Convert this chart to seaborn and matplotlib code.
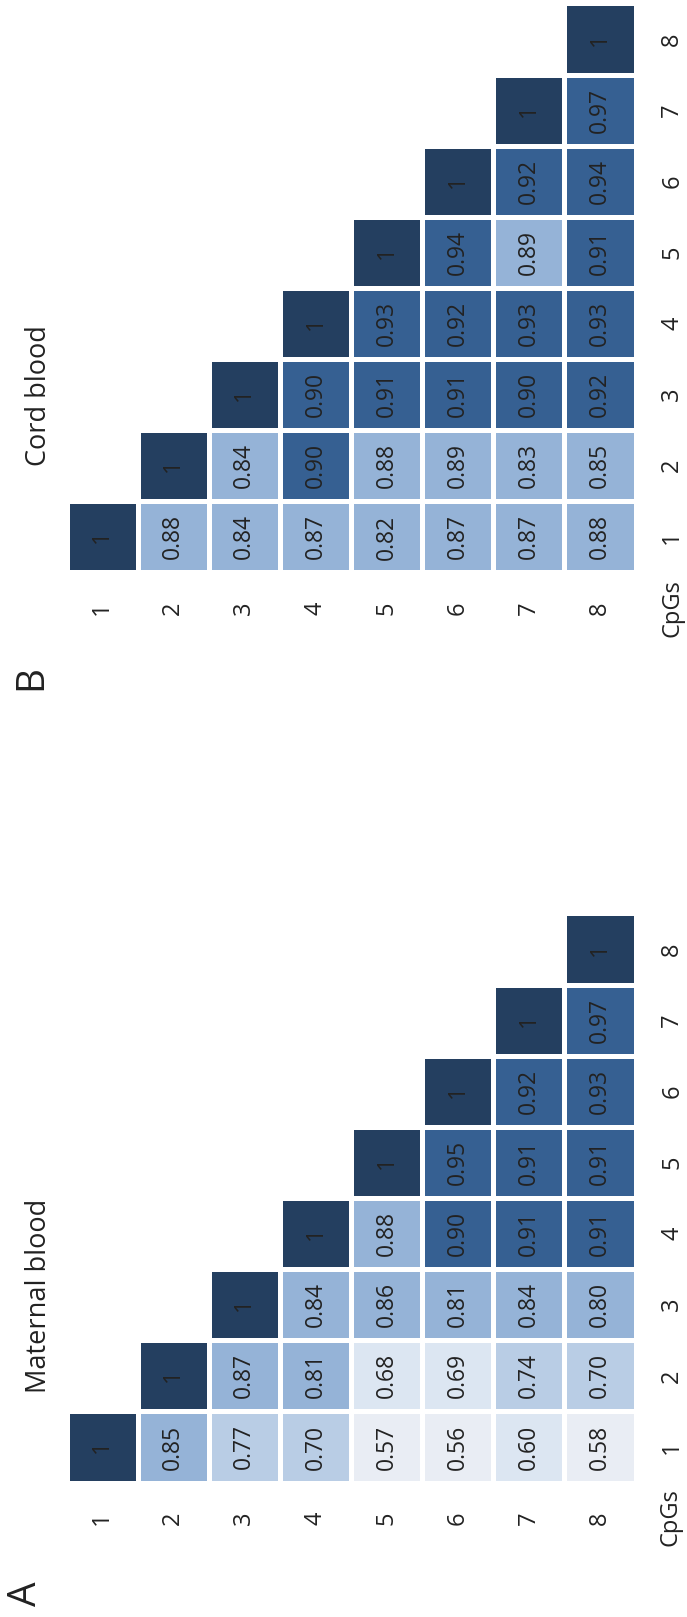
import numpy as np
import pandas as pd
import matplotlib
matplotlib.use("Agg")
import matplotlib.pyplot as plt
from matplotlib.colors import ListedColormap, BoundaryNorm
import seaborn as sns

# ---------------- data ----------------
cpgs = ["1", "2", "3", "4", "5", "6", "7", "8"]

# lower-triangle correlations, row i (CpG i) vs columns 1..i-1
maternal_rows = [
    [],
    [0.85],
    [0.77, 0.87],
    [0.70, 0.81, 0.84],
    [0.57, 0.68, 0.86, 0.88],
    [0.56, 0.69, 0.81, 0.90, 0.95],
    [0.60, 0.74, 0.84, 0.91, 0.91, 0.92],
    [0.58, 0.70, 0.80, 0.91, 0.91, 0.93, 0.97],
]
cord_rows = [
    [],
    [0.88],
    [0.84, 0.84],
    [0.87, 0.90, 0.90],
    [0.82, 0.88, 0.91, 0.93],
    [0.87, 0.89, 0.91, 0.92, 0.94],
    [0.87, 0.83, 0.90, 0.93, 0.89, 0.92],
    [0.88, 0.85, 0.92, 0.93, 0.91, 0.94, 0.97],
]
titles = ["Maternal blood", "Cord blood"]
panel_letters = ["A", "B"]
axis_name = "CpGs"

# discrete colour classes
bounds = [0.0, 0.595, 0.695, 0.795, 0.895, 0.995, 1.01]
class_colors = ["#e9edf4", "#dce6f2", "#b9cde5", "#95b3d7", "#366092", "#243f60"]

# ---------------- helpers ----------------
def full_matrix(rows):
    n = len(cpgs)
    m = np.full((n, n), np.nan)
    for i, r in enumerate(rows):
        for j, v in enumerate(r):
            m[i, j] = v
        m[i, i] = 1.0
    return m

def portrait(m):
    # rotated layout: x axis = CpG row index i, y axis (top->bottom) = column index j (8..1)
    n = m.shape[0]
    p = np.full((n, n), np.nan)
    for r in range(n):
        j = n - 1 - r
        for c in range(n):
            p[r, c] = m[c, j]
    return p

def labels(p):
    out = np.empty(p.shape, dtype=object)
    for idx, v in np.ndenumerate(p):
        if np.isnan(v):
            out[idx] = ""
        elif v >= 0.995:
            out[idx] = "1"
        else:
            out[idx] = f"{v:.2f}"
    return out

# ---------------- figure ----------------
sns.set_theme(style="white")
plt.rcParams["font.family"] = ["Open Sans", "DejaVu Sans"]
TXT = "#222222"

W, H = 687, 1617
fig = plt.figure(figsize=(W / 100, H / 100), dpi=100)

cmap = ListedColormap(class_colors)
norm = BoundaryNorm(bounds, cmap.N)

# axes boxes in pixels (left, top, size)
boxes = [(66.5, 913.5, 569), (66.5, 3.5, 569)]
title_pos = [(39, 1296), (39, 396)]
letter_pos = [(26, 1594), (31, 677)]
cpgs_pos = [(671, 1517), (672, 608)]

for k, rows in enumerate([maternal_rows, cord_rows]):
    left, top, size = boxes[k]
    ax = fig.add_axes([left / W, 1 - (top + size) / H, size / W, size / H])
    p = portrait(full_matrix(rows))
    df = pd.DataFrame(p, index=cpgs[::-1], columns=cpgs)
    mask = np.isnan(p)
    sns.heatmap(df, ax=ax, mask=mask, cmap=cmap, norm=norm, cbar=False,
                annot=labels(p), fmt="", linewidths=2.2, linecolor="white",
                annot_kws={"rotation": 90, "fontsize": 16.5, "color": TXT})
    ax.yaxis.tick_right()
    ax.tick_params(axis="x", length=0, pad=26, labelsize=17, labelcolor=TXT,
                   labelrotation=90)
    ax.tick_params(axis="y", length=0, pad=26.5, labelsize=17, labelcolor=TXT,
                   labelrotation=90)
    for t in ax.get_xticklabels():
        t.set_va("center")
        t.set_ha("center")
    for t in ax.get_yticklabels():
        t.set_ha("center")
        t.set_va("center")
    ax.set_xlabel("")
    ax.set_ylabel("")
    for s in ax.spines.values():
        s.set_visible(False)

    tx, ty = title_pos[k]
    fig.text(tx / W, 1 - ty / H, titles[k], rotation=90, ha="center", va="center",
             fontsize=19.5, color=TXT)
    lx, ly = letter_pos[k]
    fig.text(lx / W, 1 - ly / H, panel_letters[k], rotation=90, ha="center",
             va="center", fontsize=28, color=TXT)
    cx, cy = cpgs_pos[k]
    fig.text(cx / W, 1 - cy / H, axis_name, rotation=90, ha="center", va="center",
             fontsize=17, color=TXT)

fig.savefig("out.png", dpi=100, facecolor="white")
